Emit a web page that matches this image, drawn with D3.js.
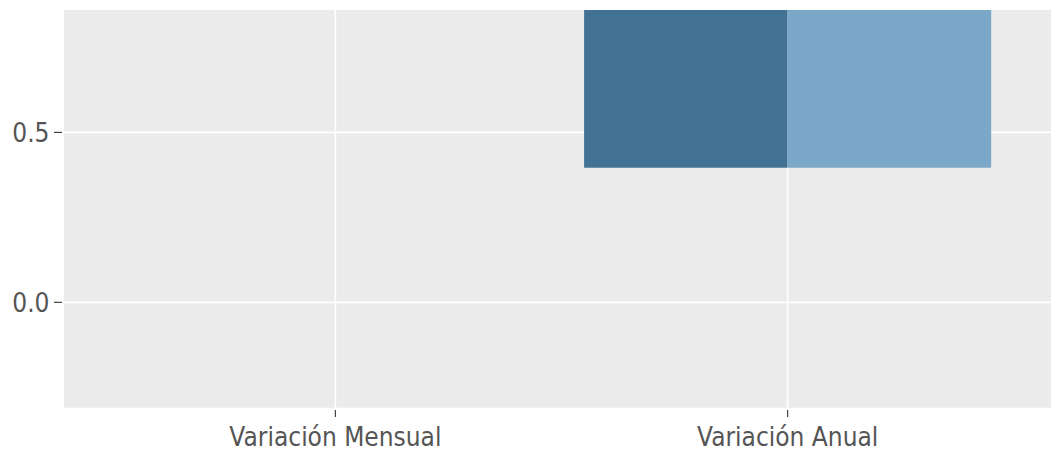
<!DOCTYPE html>
<html><head><meta charset="utf-8">
<script src="https://cdn.jsdelivr.net/npm/d3@7"></script>
<style>body{margin:0;background:#fff}svg{display:block}</style>
</head><body>
<script>
const categories = ["Variación Mensual", "Variación Anual"];
const seriesNames = ["Serie A", "Serie B"];
// bar extents [low, high] per category for each series (null = no visible bar)
const seriesLow = [[null, 0.396], [null, 0.396]];
const seriesHigh = [[null, 1.0], [null, 1.0]];
const yTicks = [0.0, 0.5];
const yTickLabels = ["0.0", "0.5"];
const colors = ["#417293", "#7ba7c9"];

const W = 1051, H = 449;
const m = {left: 64, top: 10, right: -8, bottom: 41.3};
const svg = d3.select("body").append("svg").attr("width", W).attr("height", H);
const pw = W - m.left - m.right, ph = H - m.top - m.bottom;

const unit = pw / 2.2;
const xPos = d3.scalePoint().domain(categories).range([m.left + 0.6 * unit, m.left + pw - 0.6 * unit]);
const y = d3.scaleLinear().domain([-0.31, 0.86]).range([m.top + ph, m.top]);

svg.append("defs").append("clipPath").attr("id", "clip")
  .append("rect").attr("x", m.left).attr("y", m.top).attr("width", pw).attr("height", ph);

svg.append("rect").attr("x", m.left).attr("y", m.top).attr("width", pw).attr("height", ph).attr("fill", "#ebebeb");

const g = svg.append("g").attr("clip-path", "url(#clip)");
g.selectAll(".ymaj").data(yTicks).join("line")
  .attr("x1", m.left).attr("x2", m.left + pw)
  .attr("y1", d => y(d)).attr("y2", d => y(d))
  .attr("stroke", "#fff").attr("stroke-width", 1.6);
g.selectAll(".xmaj").data(categories).join("line")
  .attr("x1", d => xPos(d)).attr("x2", d => xPos(d))
  .attr("y1", m.top).attr("y2", m.top + ph)
  .attr("stroke", "#fff").attr("stroke-width", 1.6);

const bw = 0.9 * unit / seriesNames.length;
seriesNames.forEach((s, si) => {
  const data = categories.map((c, ci) => ({c, lo: seriesLow[si][ci], hi: seriesHigh[si][ci]})).filter(d => d.lo !== null);
  g.selectAll(".bar" + si).data(data).join("rect")
    .attr("x", d => xPos(d.c) - 0.45 * unit + si * bw)
    .attr("width", bw)
    .attr("y", d => y(d.hi))
    .attr("height", d => y(d.lo) - y(d.hi))
    .attr("fill", colors[si]);
});

const font = "DejaVu Sans, Verdana, sans-serif";
const fs = 26, sx = 0.9;
const ya = svg.append("g");
yTicks.forEach((t, i) => {
  ya.append("line").attr("x1", m.left - 10).attr("x2", m.left - 2).attr("y1", y(t)).attr("y2", y(t))
    .attr("stroke", "#333").attr("stroke-width", 1.1);
  ya.append("text").attr("transform", `translate(${m.left - 14.5},${y(t)}) scale(${sx},1)`)
    .attr("dy", "0.36em")
    .attr("text-anchor", "end").attr("font-family", font).attr("font-size", fs)
    .attr("fill", "#555").text(yTickLabels[i]);
});
const xa = svg.append("g");
categories.forEach(c => {
  xa.append("line").attr("x1", xPos(c)).attr("x2", xPos(c)).attr("y1", m.top + ph + 2.3).attr("y2", m.top + ph + 9.3)
    .attr("stroke", "#333").attr("stroke-width", 1.1);
  xa.append("text").attr("transform", `translate(${xPos(c)},${m.top + ph + 38.7}) scale(${sx},1)`)
    .attr("text-anchor", "middle").attr("font-family", font).attr("font-size", fs)
    .attr("fill", "#555").text(c);
});
</script>
</body></html>
